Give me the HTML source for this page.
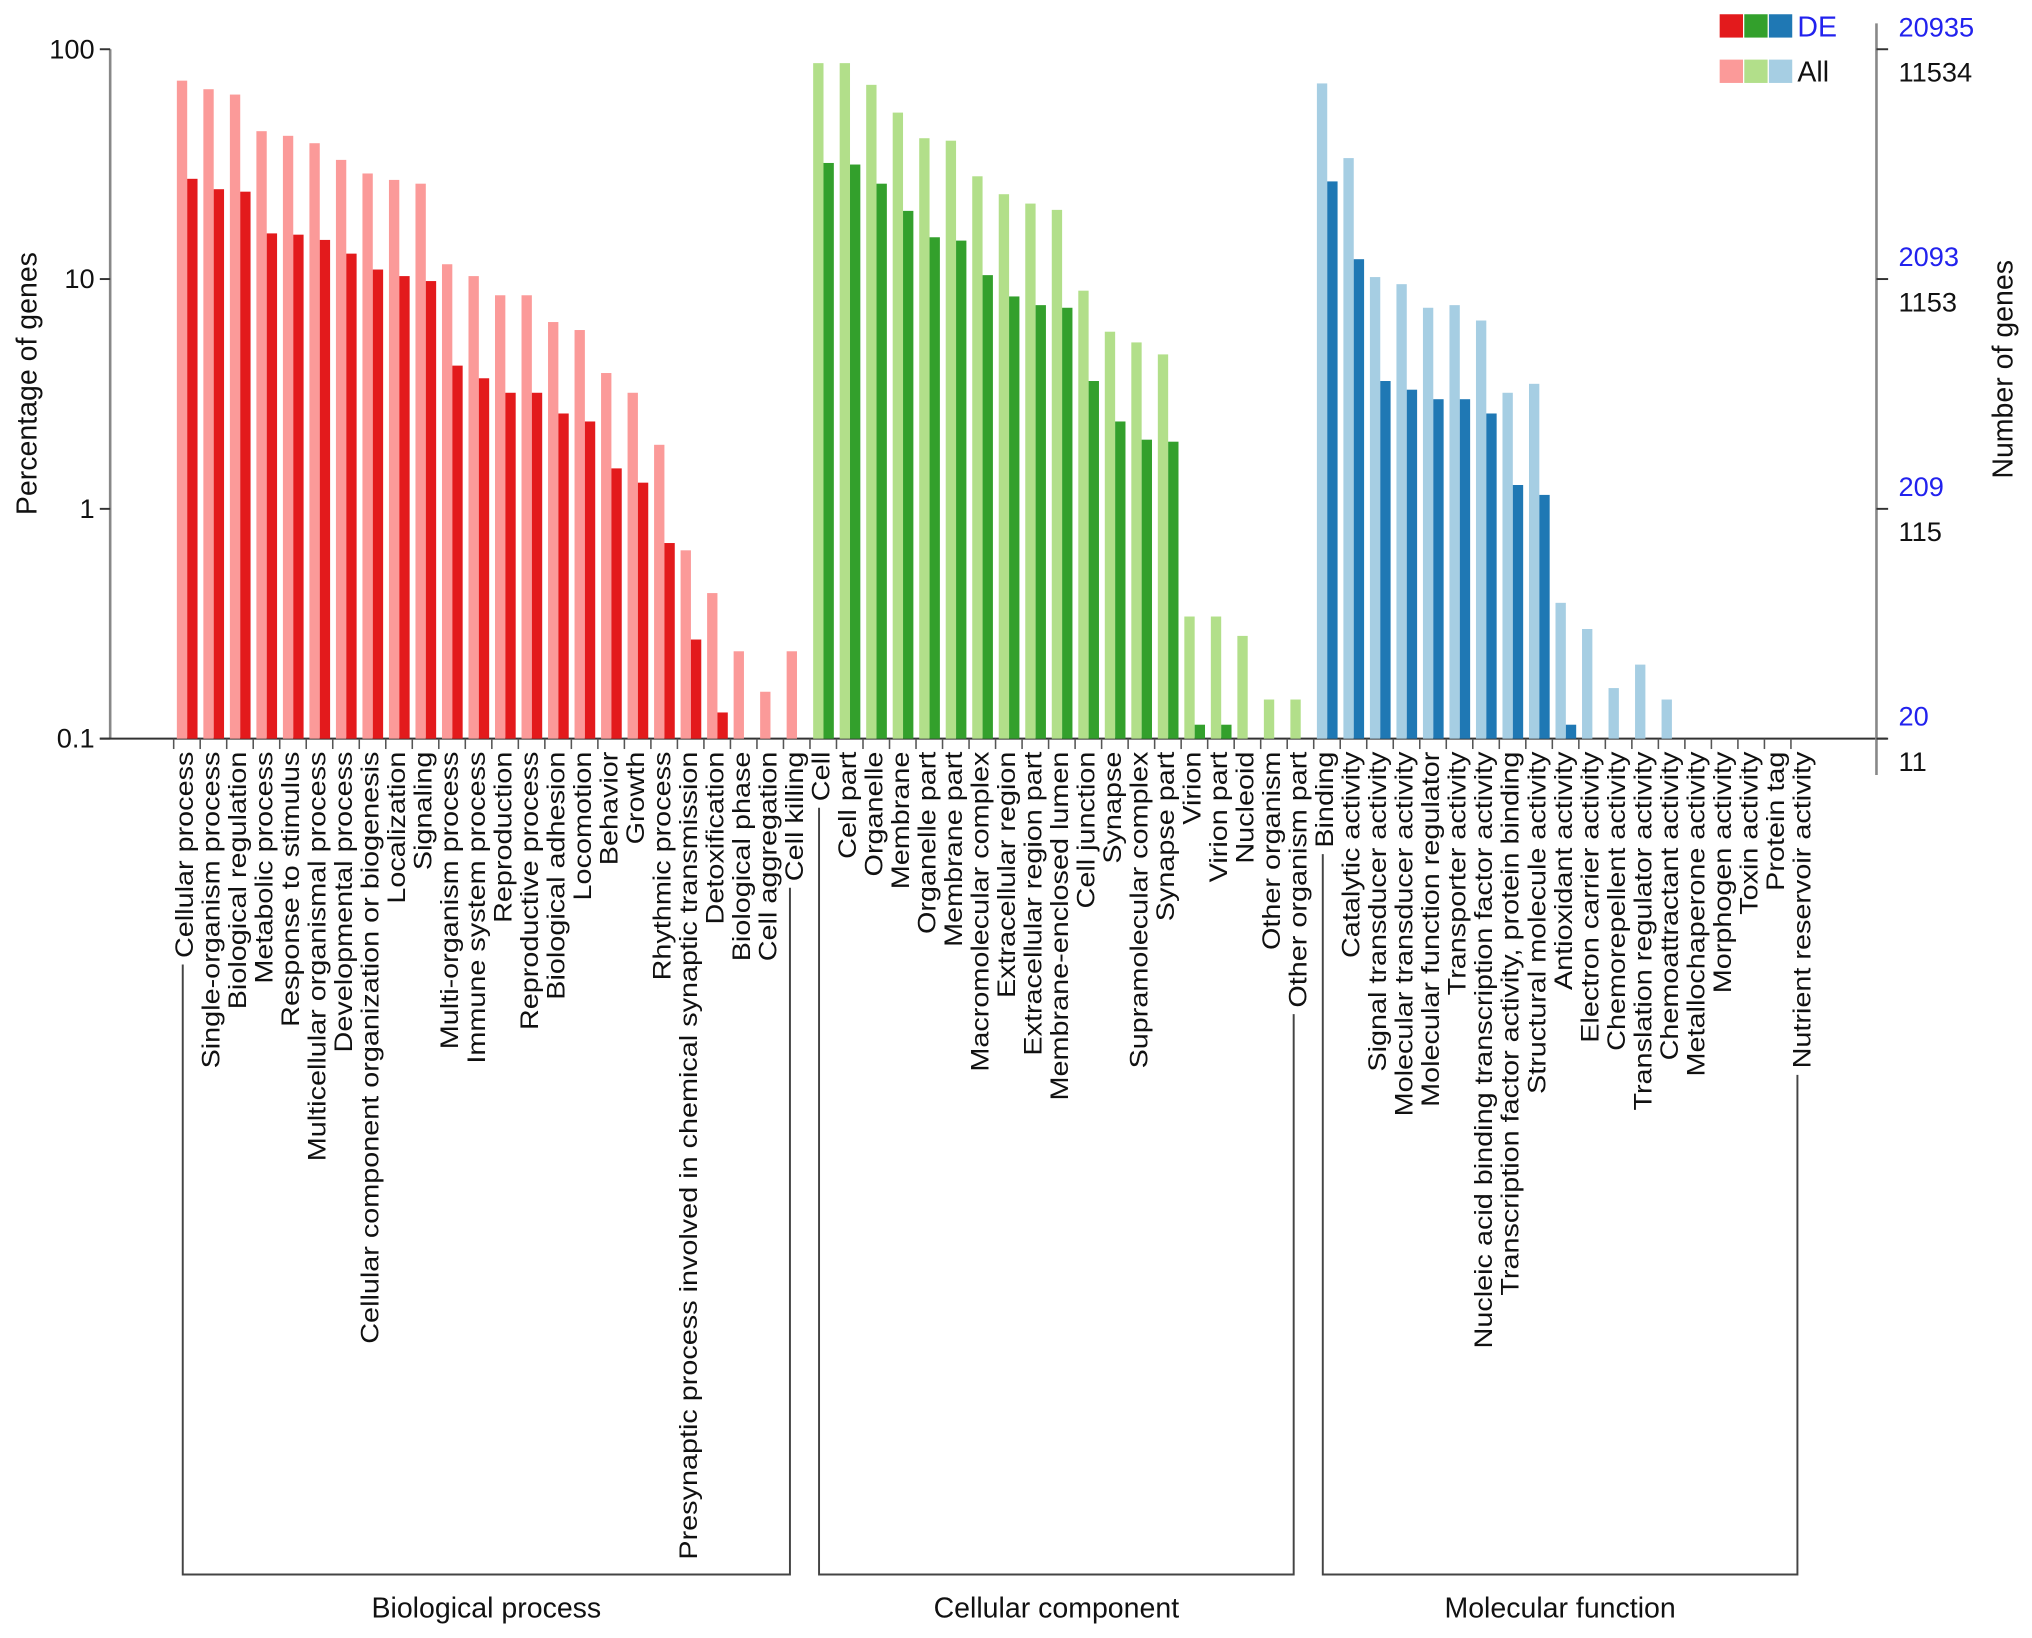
<!DOCTYPE html>
<html><head><meta charset="utf-8"><style>
html,body{margin:0;padding:0;background:#fff;}
svg{display:block;font-family:"Liberation Sans",Arial,sans-serif;}
</style></head><body>
<svg id="chart" width="2032" height="1638" viewBox="0 0 1568 1264" xmlns="http://www.w3.org/2000/svg">
<g id="axes"></g>
<g id="bars"></g>
<g id="labels"></g>
<g id="brackets"></g>
<g id="legend">
  <rect x="1327" y="11" width="18" height="18" fill="#e31a1c"/>
  <rect x="1346" y="11" width="18" height="18" fill="#33a02c"/>
  <rect x="1365" y="11" width="18" height="18" fill="#1f78b4"/>
  <text x="1387" y="28" font-size="22" fill="#2222ee">DE</text>
  <rect x="1327" y="46" width="18" height="18" fill="#fb9a99"/>
  <rect x="1346" y="46" width="18" height="18" fill="#b2df8a"/>
  <rect x="1365" y="46" width="18" height="18" fill="#a6cee3"/>
  <text x="1387" y="63" font-size="22" fill="#111">All</text>
</g>
</svg>
<script>
const categories = ["Cellular process","Single-organism process","Biological regulation","Metabolic process","Response to stimulus","Multicellular organismal process","Developmental process","Cellular component organization or biogenesis","Localization","Signaling","Multi-organism process","Immune system process","Reproduction","Reproductive process","Biological adhesion","Locomotion","Behavior","Growth","Rhythmic process","Presynaptic process involved in chemical synaptic transmission","Detoxification","Biological phase","Cell aggregation","Cell killing",
"Cell","Cell part","Organelle","Membrane","Organelle part","Membrane part","Macromolecular complex","Extracellular region","Extracellular region part","Membrane-enclosed lumen","Cell junction","Synapse","Supramolecular complex","Synapse part","Virion","Virion part","Nucleoid","Other organism","Other organism part",
"Binding","Catalytic activity","Signal transducer activity","Molecular transducer activity","Molecular function regulator","Transporter activity","Nucleic acid binding transcription factor activity","Transcription factor activity, protein binding","Structural molecule activity","Antioxidant activity","Electron carrier activity","Chemorepellent activity","Translation regulator activity","Chemoattractant activity","Metallochaperone activity","Morphogen activity","Toxin activity","Protein tag","Nutrient reservoir activity"];
const groupOf = [0,0,0,0,0,0,0,0,0,0,0,0,0,0,0,0,0,0,0,0,0,0,0,0,
1,1,1,1,1,1,1,1,1,1,1,1,1,1,1,1,1,1,1,
2,2,2,2,2,2,2,2,2,2,2,2,2,2,2,2,2,2,2];
const groupNames = ["Biological process","Cellular component","Molecular function"];
const allPct = [73,67,63.5,44,42,39,33,28.8,27,26,11.6,10.3,8.5,8.5,6.5,6.0,3.9,3.2,1.9,0.66,0.43,0.24,0.16,0.24,
87,87,70,53,41,40,28,23.4,21.3,20,8.9,5.9,5.3,4.7,0.34,0.34,0.28,0.148,0.148,
71,33.6,10.2,9.5,7.5,7.7,6.6,3.2,3.5,0.39,0.30,0.166,0.21,0.148,0,0,0,0,0];
const dePct = [27.3,24.6,24,15.8,15.6,14.8,12.9,11,10.3,9.8,4.2,3.7,3.2,3.2,2.6,2.4,1.5,1.3,0.71,0.27,0.13,0,0,0,
32,31.5,26,19.8,15.2,14.7,10.4,8.4,7.7,7.5,3.6,2.4,2.0,1.96,0.115,0.115,0,0,0,
26.6,12.2,3.6,3.3,3.0,3.0,2.6,1.27,1.15,0.115,0,0,0,0,0,0,0,0,0];
const leftTicks = [0.1,1,10,100];
const leftTickLabels = ["0.1","1","10","100"];
const rightDE = ["20","209","2093","20935"];
const rightAll = ["11","115","1153","11534"];
const lightColors = ["#fb9a99","#b2df8a","#a6cee3"];
const darkColors = ["#e31a1c","#33a02c","#1f78b4"];

const NS = "http://www.w3.org/2000/svg";
const X0 = 85, X1 = 1448, YTOP = 38, YBOT = 570;
const firstTick = 134, lastTick = 1382;
const step = (lastTick - firstTick) / (categories.length - 1);
const LSTRETCH = 1.14, LFONT = 19.5, LSTART = YBOT + 10;
function xScale(i){ return firstTick + i * step; }
function yScale(v){ return YBOT - (Math.log10(v) - Math.log10(0.1)) / 3 * (YBOT - YTOP); }
function mk(tag, attrs, parent){ const e = document.createElementNS(NS, tag); for (const k in attrs) e.setAttribute(k, attrs[k]); parent.appendChild(e); return e; }

const axes = document.getElementById('axes');
let l = mk('line',{x1:X0,y1:YTOP,x2:X0,y2:YBOT,stroke:'#888','stroke-width':2},axes);


l = mk('line',{x1:X0-8,y1:YBOT,x2:X1+8,y2:YBOT,stroke:'#333','stroke-width':1.5},axes);


l = mk('line',{x1:X1,y1:18,x2:X1,y2:598,stroke:'#888','stroke-width':2},axes);


leftTicks.forEach((v,k)=>{
  const y = yScale(v);
  const t = mk('line',{x1:X0-8,y1:y,x2:X0,y2:y,stroke:'#333','stroke-width':1.5},axes);
  
  
  const tx = mk('text',{x:X0-12,y:y+7,'font-size':21,'text-anchor':'end',fill:'#111'},axes);
  tx.textContent = leftTickLabels[k];
  
  
  const rt = mk('line',{x1:X1,y1:y,x2:X1+9,y2:y,stroke:'#333','stroke-width':1.5},axes);
  
  
  const a = mk('text',{x:1465,y:y-10,'font-size':21,fill:'#2222ee'},axes);
  a.textContent = rightDE[k];
  
  
  const b = mk('text',{x:1465,y:y+25,'font-size':21,fill:'#111'},axes);
  b.textContent = rightAll[k];
  
  
});
let at = mk('text',{transform:'translate(28,296) rotate(-90)','font-size':22,'text-anchor':'middle',fill:'#111'},axes);
at.textContent = 'Percentage of genes';


at = mk('text',{transform:'translate(1553,285) rotate(-90)','font-size':22,'text-anchor':'middle',fill:'#111'},axes);
at.textContent = 'Number of genes';



const bars = document.getElementById('bars');
const labels = document.getElementById('labels');
const labelEnds = [];
categories.forEach((c,i)=>{
  const x = xScale(i), g = groupOf[i];
  const bw = step*0.39;
  if (allPct[i] > 0.1){
    const y = yScale(allPct[i]);
    const r = mk('rect',{x:x+step*0.12,y:y,width:bw,height:YBOT-y,fill:lightColors[g]},bars);
    
    
  }
  if (dePct[i] > 0.1){
    const y = yScale(dePct[i]);
    const r = mk('rect',{x:x+step*0.12+bw,y:y,width:bw,height:YBOT-y,fill:darkColors[g]},bars);
    
    
  }
  const t = mk('line',{x1:x,y1:YBOT,x2:x,y2:YBOT+8,stroke:'#555','stroke-width':1.2},labels);
  
  
  const tx = mk('text',{transform:`translate(${x+15},${LSTART}) rotate(-90) scale(${LSTRETCH},1)`,'font-size':LFONT,'text-anchor':'end',fill:'#111'},labels);
  tx.textContent = c;
  
  
  let len;
  try { len = tx.getComputedTextLength(); } catch(e) { len = c.length*LFONT*0.5; }
  if (!len) len = c.length*LFONT*0.5;
  labelEnds.push(LSTART + len*LSTRETCH + 5);
});

const brackets = document.getElementById('brackets');
const BY = 1215;
[0,1,2].forEach(g=>{
  const idx = groupOf.map((v,i)=>v===g?i:-1).filter(i=>i>=0);
  const a = idx[0], b = idx[idx.length-1];
  const xa = xScale(a)+7, xb = xScale(b)+5;
  const p = mk('path',{d:`M${xa},${labelEnds[a]} V${BY} H${xb} V${labelEnds[b]}`,fill:'none',stroke:'#444','stroke-width':1.5},brackets);
  
  
  const t = mk('text',{x:(xa+xb)/2,y:1248,'font-size':22,'text-anchor':'middle',fill:'#111'},brackets);
  t.textContent = groupNames[g];
  
  
});
</script>
</body></html>
